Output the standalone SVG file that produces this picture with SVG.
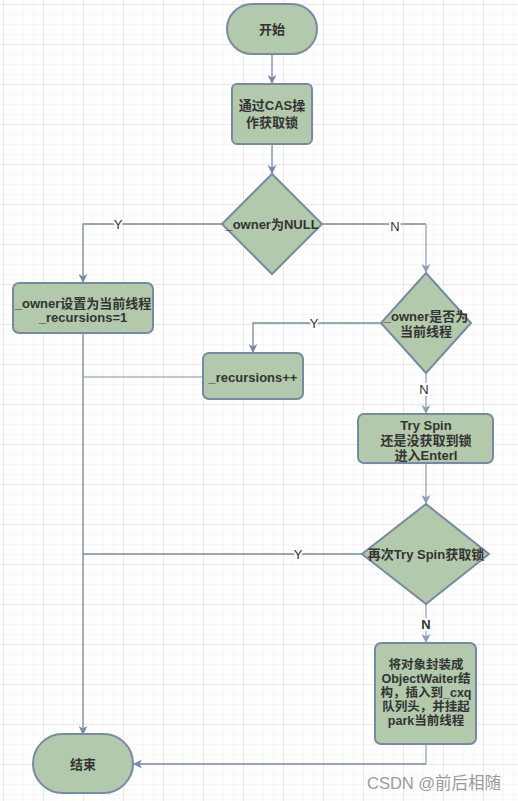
<svg xmlns="http://www.w3.org/2000/svg" width="518" height="801" viewBox="0 0 518 801">
<defs>
<pattern id="minor" x="3" y="4" width="10" height="10" patternUnits="userSpaceOnUse">
<path d="M0,0 H10 M0,0 V10" stroke="#f0f0f0" stroke-width="1" fill="none"/>
</pattern>
<pattern id="major" x="3" y="4" width="40" height="40" patternUnits="userSpaceOnUse">
<path d="M0,0 H40 M0,0 V40" stroke="#dcdcdc" stroke-width="1" fill="none"/>
</pattern>
<marker id="arr" viewBox="0 0 10 10" refX="9" refY="5" markerWidth="9" markerHeight="9" orient="auto" markerUnits="userSpaceOnUse">
<path d="M0,0 L10,5 L0,10 L3,5 z" fill="#788aa3"/>
</marker>
<marker id="arrL" viewBox="0 0 10 10" refX="9" refY="5" markerWidth="9" markerHeight="9" orient="auto" markerUnits="userSpaceOnUse">
<path d="M0,0 L10,5 L0,10 L3,5 z" fill="#8d9db4"/>
</marker>
</defs>
<style>
.node{fill:#b2c9ab;stroke:#788aa3;stroke-width:2}
.t{font-family:"Liberation Sans","Noto Sans CJK SC",sans-serif;font-size:13px;fill:#333333;text-anchor:middle}
.s{font-size:12.5px}
.b{font-weight:bold}
.c{fill:none;stroke:#788aa3;stroke-width:1.3}
.cl{fill:none;stroke:#a8b4c6;stroke-width:1.6}
.lbl{font-family:"Liberation Sans","Noto Sans CJK SC",sans-serif;font-size:13px;fill:#333333;text-anchor:middle;stroke:#ffffff;stroke-width:4;paint-order:stroke}
.wm{font-family:"Liberation Sans","Noto Sans CJK SC",sans-serif;font-size:16.5px;fill:#9a9a9a}
</style>
<rect width="518" height="801" fill="#ffffff"/>
<rect width="518" height="801" fill="url(#minor)"/>
<rect width="518" height="801" fill="url(#major)"/>

<g id="connectors">
<path class="c" d="M272,54 V83" marker-end="url(#arr)"/>
<path class="c" d="M272,144 V173" marker-end="url(#arr)"/>
<path class="c" d="M222,224 H83 V282" marker-end="url(#arr)"/>
<path class="c" d="M322,224 H426"/>
<path class="cl" d="M426,224 V272" marker-end="url(#arrL)"/>
<path class="c" d="M380,323 H253 V352" marker-end="url(#arr)"/>
<path class="cl" d="M203,377 H83"/>
<path class="c" d="M83,333 V734" marker-end="url(#arr)"/>
<path class="cl" d="M426,373 V413" marker-end="url(#arrL)"/>
<path class="cl" d="M426,463 V503" marker-end="url(#arrL)"/>
<path class="c" d="M362,554 H83"/>
<path class="cl" d="M426,603 V642" marker-end="url(#arrL)"/>
<path class="cl" d="M426,744 V764"/>
<path class="c" d="M426,764 H134" marker-end="url(#arr)"/>
<text class="lbl" x="118" y="229">Y</text>
<text class="lbl" x="395" y="231">N</text>
<text class="lbl" x="314" y="328">Y</text>
<text class="lbl" x="424" y="394">N</text>
<text class="lbl" x="298" y="559">Y</text>
<text class="lbl b" x="426" y="629">N</text>
</g>

<g id="start">
<rect class="node" x="227" y="4" width="90" height="50" rx="25"/>
<text class="t b" x="272" y="34">开始</text>
</g>
<g id="cas">
<rect class="node" x="232" y="84" width="80" height="60" rx="5"/>
<text class="t b" x="272" y="110">通过CAS操</text>
<text class="t b" x="272" y="127">作获取锁</text>
</g>
<g id="ownerNull">
<polygon class="node" points="272,174 322,224 272,274 222,224"/>
<text class="t b" x="272" y="229">_owner为NULL</text>
</g>
<g id="setOwner">
<rect class="node" x="13" y="283" width="140" height="50" rx="6"/>
<text class="t b" x="83" y="308">_owner设置为当前线程</text>
<text class="t b" x="83" y="322">_recursions=1</text>
</g>
<g id="isCurrent">
<polygon class="node" points="426,273 471,323 426,373 381,323"/>
<text class="t b" x="426" y="321">_owner是否为</text>
<text class="t b" x="426" y="336">当前线程</text>
</g>
<g id="recInc">
<rect class="node" x="203" y="353" width="100" height="46" rx="6"/>
<text class="t b" x="253" y="382">_recursions++</text>
</g>
<g id="trySpin">
<rect class="node" x="358" y="414" width="135" height="49" rx="6"/>
<text class="t b" x="426" y="430">Try Spin</text>
<text class="t b" x="426" y="445">还是没获取到锁</text>
<text class="t b" x="426" y="460">进入EnterI</text>
</g>
<g id="trySpin2">
<polygon class="node" points="426,504 489,554 426,604 362,554"/>
<text class="t b" x="426" y="559">再次Try Spin获取锁</text>
</g>
<g id="waiter">
<rect class="node" x="375" y="643" width="101" height="101" rx="6"/>
<text class="t b s" x="426" y="669">将对象封装成</text>
<text class="t b s" x="426" y="683">ObjectWaiter结</text>
<text class="t b s" x="426" y="697">构，插入到_cxq</text>
<text class="t b s" x="426" y="711">队列头，并挂起</text>
<text class="t b s" x="426" y="725">park当前线程</text>
</g>
<g id="end">
<rect class="node" x="33" y="734" width="100" height="59" rx="29.5"/>
<text class="t b" x="83" y="769">结束</text>
</g>
<text class="wm" x="367" y="789">CSDN @前后相随</text>
</svg>
